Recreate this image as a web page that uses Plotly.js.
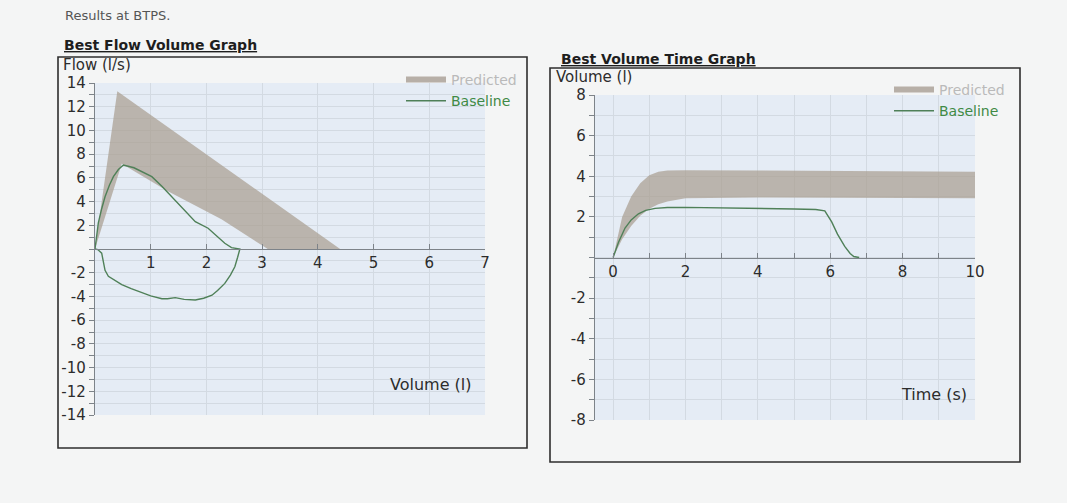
<!DOCTYPE html>
<html>
<head>
<meta charset="utf-8">
<script src="https://cdn.plot.ly/plotly-3.0.1.min.js"></script>
<style>html,body{margin:0;padding:0;background:#f4f5f5;}#chart{width:1067px;height:503px;}</style>
</head>
<body>
<div id="chart"></div>
<script>
// ---------- Flow-volume data ----------
const fvPredUpperVol  = [0, 0.40, 4.40];
const fvPredUpperFlow = [0, 13.3, 0];
const fvPredLowerVol  = [0, 0.48, 1.30, 2.27, 3.10];
const fvPredLowerFlow = [0, 7.20, 4.90, 2.50, 0];

const fvBaseVol  = [0, 0.03, 0.06, 0.12, 0.18, 0.26, 0.33, 0.42, 0.51, 0.70, 0.85, 1.02, 1.20, 1.38, 1.60, 1.80, 2.03, 2.20, 2.33, 2.45, 2.60,
                    2.60, 2.56, 2.51, 2.43, 2.33, 2.20, 2.10, 1.95, 1.80, 1.60, 1.44, 1.30, 1.20, 1.00, 0.84, 0.65, 0.48, 0.33, 0.24, 0.18, 0.15, 0.12, 0.05, 0];
const fvBaseFlow = [0, 1.0, 2.2, 3.4, 4.4, 5.4, 6.1, 6.7, 7.08, 6.85, 6.5, 6.1, 5.3, 4.4, 3.3, 2.3, 1.75, 1.05, 0.48, 0.12, 0,
                    0, -0.7, -1.5, -2.2, -2.9, -3.5, -3.9, -4.15, -4.3, -4.25, -4.1, -4.2, -4.2, -3.95, -3.7, -3.35, -3.0, -2.6, -2.3, -1.8, -0.9, -0.35, -0.05, 0];

// ---------- Volume-time data ----------
const vtPredTime  = [0, 0.25, 0.5, 0.75, 1.0, 1.25, 1.5, 2, 4, 6, 8, 10];
const vtPredUpper = [0, 2.0, 3.0, 3.65, 4.05, 4.22, 4.28, 4.3, 4.28, 4.26, 4.24, 4.22];
const vtPredLower = [0, 0.9, 1.55, 2.05, 2.4, 2.62, 2.76, 2.92, 2.95, 2.94, 2.93, 2.92];

const vtBaseTime   = [0, 0.15, 0.33, 0.5, 0.7, 0.9, 1.16, 1.5, 2, 3, 4, 5, 5.6, 5.85, 6.04, 6.2, 6.4, 6.55, 6.65, 6.8];
const vtBaseVolume = [0, 0.75, 1.45, 1.85, 2.15, 2.32, 2.42, 2.46, 2.47, 2.45, 2.42, 2.39, 2.36, 2.3, 1.75, 1.15, 0.55, 0.2, 0.05, 0];

// ---------- ticks ----------
const fvXTickVals = [0, 1, 2, 3, 4, 5, 6, 7];
const fvXTickText = ['', '1', '2', '3', '4', '5', '6', '7'];
const fvYTickVals = [];
const fvYTickText = [];
for (let v = -14; v <= 14; v++) { fvYTickVals.push(v); fvYTickText.push(v !== 0 && v % 2 === 0 ? String(v) : ''); }
const vtXTickVals = [0, 1, 2, 3, 4, 5, 6, 7, 8, 9, 10];
const vtXTickText = ['0', '', '2', '', '4', '', '6', '', '8', '', '10'];
const vtYTickVals = [];
const vtYTickText = [];
for (let v = -8; v <= 8; v++) { vtYTickVals.push(v); vtYTickText.push(v !== 0 && v % 2 === 0 ? String(v) : ''); }

const W = 1067, H = 503;
const px = x => x / W;
const py = y => 1 - y / H;

const bandFill = 'rgba(168,156,143,0.7)';
const bandLegend = '#b7afa7';
const green = '#4f8058';
const FONT = 'DejaVu Sans, Verdana, sans-serif';

const predName = '<span style="color:#bababa">Predicted</span>';
const baseName = '<span style="color:#3f8a45">Baseline</span>';

const traces = [
  { x: fvPredUpperVol.concat(fvPredLowerVol.slice().reverse()),
    y: fvPredUpperFlow.concat(fvPredLowerFlow.slice().reverse()),
    xaxis: 'x', yaxis: 'y', mode: 'lines', fill: 'toself', fillcolor: bandFill,
    line: { width: 0, color: bandFill }, showlegend: false, hoverinfo: 'skip' },
  { x: fvBaseVol, y: fvBaseFlow, xaxis: 'x', yaxis: 'y', mode: 'lines',
    line: { color: green, width: 1.4 }, showlegend: false },
  { x: [null], y: [null], xaxis: 'x', yaxis: 'y', mode: 'lines', name: predName,
    line: { color: bandLegend, width: 6 }, legend: 'legend' },
  { x: [null], y: [null], xaxis: 'x', yaxis: 'y', mode: 'lines', name: baseName,
    line: { color: green, width: 1.4 }, legend: 'legend' },

  { x: vtPredTime.concat(vtPredTime.slice().reverse()),
    y: vtPredUpper.concat(vtPredLower.slice().reverse()),
    xaxis: 'x2', yaxis: 'y2', mode: 'lines', fill: 'toself', fillcolor: bandFill,
    line: { width: 0, color: bandFill }, showlegend: false, hoverinfo: 'skip' },
  { x: vtBaseTime, y: vtBaseVolume, xaxis: 'x2', yaxis: 'y2', mode: 'lines',
    line: { color: green, width: 1.4 }, showlegend: false },
  { x: [null], y: [null], xaxis: 'x2', yaxis: 'y2', mode: 'lines', name: predName,
    line: { color: bandLegend, width: 6 }, legend: 'legend2' },
  { x: [null], y: [null], xaxis: 'x2', yaxis: 'y2', mode: 'lines', name: baseName,
    line: { color: green, width: 1.4 }, legend: 'legend2' }
];

const gridCol = '#d3dae2';
const axisCol = '#7d8389';
const tickFont = { family: FONT, size: 15, color: '#2c2c2c' };

const leftY = [py(415), py(83)];
const rightY = [py(420), py(95)];

function xAxis(domain, pos, range, vals, text) {
  return { domain: domain, range: range, anchor: 'free', position: pos, side: 'bottom',
    tickmode: 'array', tickvals: vals, ticktext: text, ticks: 'inside', ticklen: 5, tickcolor: axisCol,
    showgrid: true, gridcolor: gridCol, gridwidth: 1, zeroline: false,
    showline: true, linecolor: axisCol, linewidth: 1.2, tickfont: tickFont, fixedrange: true };
}
function yAxis(domain, anchor, range, vals, text) {
  return { domain: domain, range: range, anchor: anchor,
    tickmode: 'array', tickvals: vals, ticktext: text, ticks: 'outside', ticklen: 5, tickcolor: axisCol,
    showgrid: true, gridcolor: gridCol, gridwidth: 1, zeroline: false,
    showline: true, linecolor: axisCol, linewidth: 1.2, tickfont: tickFont, fixedrange: true };
}

const layout = {
  width: W, height: H,
  margin: { l: 0, r: 0, t: 0, b: 0 },
  paper_bgcolor: '#f4f5f5',
  plot_bgcolor: '#e5ecf5',
  showlegend: true,
  xaxis: xAxis([px(95), px(485)], (leftY[0] + leftY[1]) / 2, [0, 7], fvXTickVals, fvXTickText),
  yaxis: yAxis(leftY, 'x', [-14, 14], fvYTickVals, fvYTickText),
  xaxis2: xAxis([px(595), px(975)], (rightY[0] + rightY[1]) / 2, [-0.5, 10], vtXTickVals, vtXTickText),
  yaxis2: yAxis(rightY, 'x2', [-8, 8], vtYTickVals, vtYTickText),
  legend: { x: px(522), xanchor: 'right', y: py(64), yanchor: 'top', bgcolor: 'rgba(0,0,0,0)',
    font: { family: FONT, size: 14 }, itemwidth: 40, tracegroupgap: 0 },
  legend2: { x: px(1010), xanchor: 'right', y: py(74), yanchor: 'top', bgcolor: 'rgba(0,0,0,0)',
    font: { family: FONT, size: 14 }, itemwidth: 40, tracegroupgap: 0 },
  shapes: [
    { type: 'rect', xref: 'paper', yref: 'paper', x0: px(58), x1: px(527), y0: py(448), y1: py(57),
      line: { color: '#2e2e2e', width: 1.6 }, fillcolor: 'rgba(0,0,0,0)', layer: 'above' },
    { type: 'rect', xref: 'paper', yref: 'paper', x0: px(550), x1: px(1020), y0: py(462), y1: py(68),
      line: { color: '#2e2e2e', width: 1.6 }, fillcolor: 'rgba(0,0,0,0)', layer: 'above' }
  ],
  annotations: [
    { text: 'Results at BTPS.', xref: 'paper', yref: 'paper', x: px(63), y: py(16), xanchor: 'left', yanchor: 'middle',
      showarrow: false, font: { family: FONT, size: 13, color: '#555' } },
    { text: '<b><u>Best Flow Volume Graph</u></b>', xref: 'paper', yref: 'paper', x: px(62), y: py(45), xanchor: 'left', yanchor: 'middle',
      showarrow: false, font: { family: FONT, size: 14, color: '#1e1e1e' } },
    { text: '<b><u>Best Volume Time Graph</u></b>', xref: 'paper', yref: 'paper', x: px(559), y: py(59), xanchor: 'left', yanchor: 'middle',
      showarrow: false, font: { family: FONT, size: 14, color: '#1e1e1e' } },
    { text: 'Flow (l/s)', xref: 'paper', yref: 'paper', x: px(61), y: py(65), xanchor: 'left', yanchor: 'middle',
      showarrow: false, font: { family: FONT, size: 15, color: '#2c2c2c' } },
    { text: 'Volume (l)', xref: 'paper', yref: 'paper', x: px(474), y: py(384), xanchor: 'right', yanchor: 'middle',
      showarrow: false, font: { family: FONT, size: 16, color: '#2c2c2c' } },
    { text: 'Volume (l)', xref: 'paper', yref: 'paper', x: px(554), y: py(77), xanchor: 'left', yanchor: 'middle',
      showarrow: false, font: { family: FONT, size: 15, color: '#2c2c2c' } },
    { text: 'Time (s)', xref: 'paper', yref: 'paper', x: px(969), y: py(394), xanchor: 'right', yanchor: 'middle',
      showarrow: false, font: { family: FONT, size: 16, color: '#2c2c2c' } }
  ]
};

Plotly.newPlot('chart', traces, layout, { displayModeBar: false, staticPlot: true });
</script>
</body>
</html>
